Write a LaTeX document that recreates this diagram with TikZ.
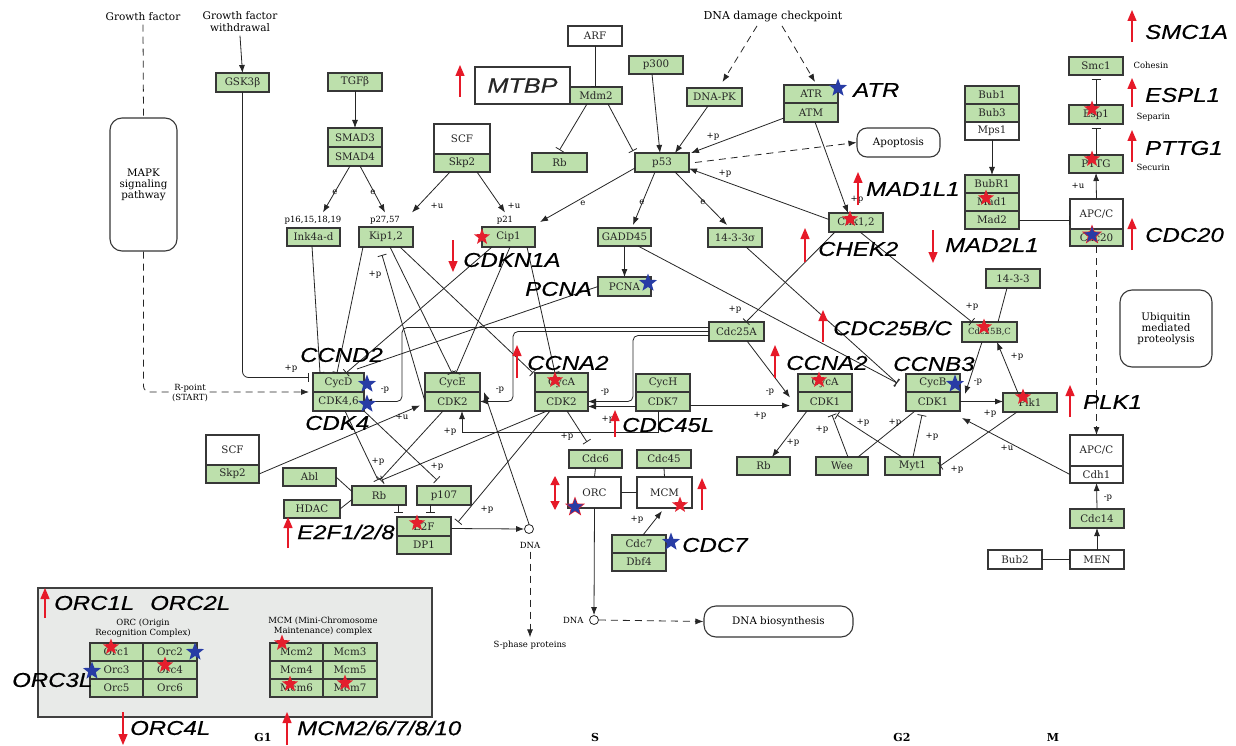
\documentclass[tikz,border=0pt]{standalone}
\usepackage{fontspec}
\setmainfont{DejaVu Serif}
\newfontfamily\gfont[FakeStretch=1.2,FakeBold=0.4]{Liberation Sans}
\usetikzlibrary{arrows.meta,shapes.geometric}
\definecolor{kg}{RGB}{189,224,172}
\definecolor{boxc}{RGB}{55,55,55}
\definecolor{pgrey}{RGB}{232,234,232}
\definecolor{sred}{RGB}{228,30,45}
\definecolor{sblue}{RGB}{40,60,165}
\definecolor{ared}{RGB}{230,25,40}
\newcommand\bxf{\fontsize{10.3}{11}\selectfont}
\newcommand\smf{\fontsize{8.5}{9.5}\selectfont}
\newcommand\KB[6][kg]{\node[bx,fill=#1,minimum width={#4pt-#2pt},minimum height={#5pt-#3pt}] (#6) at ({(#2+#4)/2},{(#3+#5)/2})}
\newcommand\LB[4]{\node[elab] (#1) at (#2,#3) {#4};}
\newcommand\GL[4]{\node[glab] (#1) at (#2,#3) {#4};}
\begin{document}
\begin{tikzpicture}[x=1pt,y=-1pt,
 bx/.style={draw=boxc,line width=1.2pt,inner sep=0pt,outer sep=0pt,font=\bxf,text=black!85},
 rbx/.style={draw=boxc,line width=1.1pt,rounded corners=12pt,align=center,font=\bxf,inner sep=0pt,fill=white},
 ln/.style={draw=black!85,line width=0.8pt},
 ar/.style={ln,-{Latex[length=8pt,width=6pt]}},
 inh/.style={ln,-{Bar[width=9pt]}},
 dsh/.style={ln,dash pattern=on 7pt off 5pt},
 elab/.style={font=\smf,inner sep=0pt},
 glab/.style={font=\gfont\itshape\fontsize{20}{21}\selectfont,anchor=west,inner sep=0pt,text=black},
 rst/.style={star,star points=5,star point ratio=2.4,fill=sred,inner sep=0pt,minimum size=17pt},
 bst/.style={star,star points=5,star point ratio=2.4,fill=sblue,inner sep=0pt,minimum size=19pt},
 rar/.style={draw=ared,line width=1.3pt,-{Triangle[width=9pt,length=11pt]}},
 ]
\useasboundingbox[fill=white] (0,0) rectangle (1236,746);

% ---- grey panel
\draw[fill=pgrey,draw=black!75,line width=1.5pt] (38,588) rectangle (432,717);

% ---- free texts
\node[font=\fontsize{10.5}{12}\selectfont] (gf) at (143,17) {Growth factor};
\node[font=\fontsize{10.5}{12}\selectfont,align=center] (gfw) at (240,22) {Growth factor\\withdrawal};
\node[font=\fontsize{11}{12}\selectfont] (ddc) at (773,17) {DNA damage checkpoint};
\node[font=\smf] (lab16) at (313,220) {p16,15,18,19};
\node[font=\smf] (lab27) at (385,220) {p27,57};
\node[font=\smf] (lab21) at (505,220) {p21};
\node[font=\smf,anchor=west] (coh) at (1130,65) {Cohesin};
\node[font=\smf,anchor=west] (sep) at (1133,117) {Separin};
\node[font=\smf,anchor=west] (sec) at (1133,167) {Securin};
\node[font=\smf,align=center] (orct) at (143,628) {ORC (Origin\\Recognition Complex)};
\node[font=\smf,align=center] (mcmt) at (323,626) {MCM (Mini-Chromosome\\Maintenance) complex};
\node[font=\bfseries\fontsize{11}{12}\selectfont] (ph1) at (263,737) {G1};
\node[font=\bfseries\fontsize{11}{12}\selectfont] (ph2) at (595,737) {S};
\node[font=\bfseries\fontsize{11}{12}\selectfont] (ph3) at (902,737) {G2};
\node[font=\bfseries\fontsize{11}{12}\selectfont] (ph4) at (1053,737) {M};

% ---- boxes
\KB{216}{73}{269}{92}{gsk} {GSK3β};
\node[rbx,minimum width=67pt,minimum height=133pt] (mapk) at (143.5,184.5) {MAPK\\signaling\\pathway};
\KB{328}{73}{382}{91}{tgf} {TGFβ};
\KB{328}{128}{382}{147}{smad3} {SMAD3};
\KB{328}{147}{382}{166}{smad4} {SMAD4};
\KB[white]{434}{124}{490}{154}{scfa} {SCF};
\KB{434}{154}{490}{172}{skp2a} {Skp2};
\KB[white]{475}{67}{570}{104}{mtbp} {\gfont\itshape\fontsize{21}{23}\selectfont MTBP};
\KB[white]{568}{26}{622}{46}{arf} {ARF};
\KB{570}{87}{622}{104}{mdm2} {Mdm2};
\KB{532}{153}{587}{172}{rbt} {Rb};
\KB{629}{56}{683}{74}{p300} {p300};
\KB{687}{88}{742}{106}{dnapk} {DNA-PK};
\KB{784}{85}{838}{103}{atr} {ATR};
\KB{784}{103}{838}{122}{atm} {ATM};
\KB{635}{153}{689}{172}{p53} {p53};
\node[rbx,minimum width=83pt,minimum height=29pt,rounded corners=10pt] (apop) at (898.5,142.5) {Apoptosis};
\KB{287}{228}{340}{246}{ink} {Ink4a-d};
\KB{359}{227}{413}{247}{kip} {Kip1,2};
\KB{482}{227}{535}{247}{cip} {Cip1};
\KB{598}{228}{651}{246}{gadd} {GADD45};
\KB{708}{228}{762}{247}{sig} {14-3-3σ};
\KB{829}{213}{883}{232}{chk} {Chk1,2};
\KB{965}{86}{1019}{104}{bub1} {Bub1};
\KB{965}{104}{1019}{122}{bub3} {Bub3};
\KB[white]{965}{122}{1019}{140}{mps1} {Mps1};
\KB{965}{175}{1019}{193}{bubr1} {BubR1};
\KB{965}{193}{1019}{211}{mad1} {Mad1};
\KB{965}{211}{1019}{229}{mad2} {Mad2};
\KB{1069}{57}{1123}{75}{smc1} {Smc1};
\KB{1069}{105}{1123}{124}{esp1} {Esp1};
\KB{1069}{155}{1123}{173}{pttg} {PTTG};
\KB[white]{1070}{199}{1123}{229}{apca} {APC/C};
\KB{1070}{229}{1123}{246}{cdc20} {Cdc20};
\KB{598}{277}{651}{296}{pcna} {PCNA};
\KB{709}{322}{764}{341}{cdc25a} {Cdc25A};
\KB{986}{269}{1040}{288}{s1433} {14-3-3};
\KB{962}{322}{1017}{342}{cdc25bc} {\fontsize{8.5}{9}\selectfont Cdc25B,C};
\node[rbx,minimum width=92pt,minimum height=77pt,rounded corners=12pt] (ubq) at (1166,328.5) {Ubiquitin\\mediated\\proteolysis};
\KB{313}{373}{364}{392}{cycd} {CycD};
\KB{313}{392}{364}{411}{cdk46} {CDK4,6};
\KB{425}{373}{480}{392}{cyce} {CycE};
\KB{425}{392}{480}{411}{cdk2e} {CDK2};
\KB{535}{373}{588}{392}{cyca} {CycA};
\KB{535}{392}{588}{411}{cdk2a} {CDK2};
\KB{636}{374}{690}{392}{cych} {CycH};
\KB{636}{392}{690}{411}{cdk7} {CDK7};
\KB{798}{374}{852}{392}{cycab} {CycA};
\KB{798}{392}{852}{411}{cdk1a} {CDK1};
\KB{906}{374}{960}{392}{cycb} {CycB};
\KB{906}{392}{960}{411}{cdk1b} {CDK1};
\KB{1003}{393}{1057}{412}{plk1} {Plk1};
\KB[white]{1070}{435}{1123}{466}{apcb} {APC/C};
\KB[white]{1070}{466}{1123}{483}{cdh1} {Cdh1};
\KB[white]{206}{435}{259}{465}{scfb} {SCF};
\KB{206}{465}{259}{483}{skp2b} {Skp2};
\KB{283}{468}{336}{486}{abl} {Abl};
\KB{284}{500}{340}{518}{hdac} {HDAC};
\KB{352}{486}{406}{505}{rb} {Rb};
\KB{417}{486}{471}{505}{p107} {p107};
\KB{397}{517}{451}{536}{e2f} {E2F};
\KB{397}{536}{451}{554}{dp1} {DP1};
\KB{569}{450}{622}{468}{cdc6} {Cdc6};
\KB{637}{450}{691}{468}{cdc45} {Cdc45};
\KB[white]{568}{477}{621}{508}{orc} {ORC};
\KB[white]{637}{477}{692}{508}{mcm} {MCM};
\KB{612}{535}{666}{553}{cdc7} {Cdc7};
\KB{612}{553}{666}{571}{dbf4} {Dbf4};
\KB{737}{457}{790}{475}{rbb} {Rb};
\KB{816}{457}{868}{475}{wee} {Wee};
\KB{885}{457}{940}{475}{myt1} {Myt1};
\KB{1070}{509}{1124}{528}{cdc14} {Cdc14};
\KB[white]{1070}{550}{1124}{569}{men} {MEN};
\KB[white]{988}{550}{1042}{569}{bub2} {Bub2};
\node[rbx,minimum width=149pt,minimum height=31pt,rounded corners=12pt] (dnab) at (778.5,621.5) {DNA biosynthesis};
% ORC / MCM grids
\KB{90}{643}{143}{661}{o1} {Orc1};
\KB{143}{643}{197}{661}{o2} {Orc2};
\KB{90}{661}{143}{679}{o3} {Orc3};
\KB{143}{661}{197}{679}{o4} {Orc4};
\KB{90}{679}{143}{697}{o5} {Orc5};
\KB{143}{679}{197}{697}{o6} {Orc6};
\KB{270}{643}{323}{661}{m2} {Mcm2};
\KB{323}{643}{377}{661}{m3} {Mcm3};
\KB{270}{661}{323}{679}{m4} {Mcm4};
\KB{323}{661}{377}{679}{m5} {Mcm5};
\KB{270}{679}{323}{697}{m6} {Mcm6};
\KB{323}{679}{377}{697}{m7} {Mcm7};
% DNA circles
\node[circle,draw=black!85,line width=0.8pt,minimum size=9pt,inner sep=0pt,fill=white] (dna1) at (529,529) {};
\node[font=\smf] (dna1l) at (530,545) {DNA};
\node[circle,draw=black!85,line width=0.8pt,minimum size=9pt,inner sep=0pt,fill=white] (dna2) at (594,620) {};
\node[font=\smf,anchor=east] (dna2l) at (587,620) {DNA};
\node[font=\smf] (sph) at (530,645) {S-phase proteins};

% ---- connectors
\draw[dsh] (gf.south) -- (mapk.north);
\draw[ar] (gfw.south) -- (gsk.north);
\draw[dsh,-{Latex[length=8pt,width=6pt]},rounded corners=6pt] (mapk.south) |- ([xshift=-4pt]cdk46.north west);
\node[fill=white,align=center,font=\smf,inner sep=1pt] (rp) at (190,393) {R-point\\(START)};
\draw[inh,rounded corners=6pt] (gsk.south) |- ([xshift=-4pt,yshift=5pt]cycd.west);
\draw[ar] (tgf.south) -- (smad3.north);
\draw[ar] ([xshift=22pt]smad4.south west) -- ([xshift=10pt]lab16.north);
\draw[ar] ([xshift=32pt]smad4.south west) -- (lab27.north);
\draw[ar] ([xshift=16pt]skp2a.south west) -- ([xshift=27pt]lab27.north);
\draw[ar] ([xshift=43pt]skp2a.south west) -- (lab21.north);
\draw[inh] (arf.south) -- ([xshift=-1pt]mdm2.north);
\draw[inh] ([xshift=17pt]mdm2.south west) -- ([yshift=3pt]rbt.north);
\draw[inh] ([xshift=38pt]mdm2.south west) -- ([xshift=-2pt,yshift=2pt]p53.north west);
\draw[ar] ([xshift=23pt]p300.south west) -- ([xshift=25pt]p53.north west);
\draw[ar] ([xshift=21pt]dnapk.south west) -- ([xshift=40pt]p53.north west);
\draw[ar] ([yshift=4pt]atm.south west) -- ([xshift=2pt]p53.north east);
\draw[ar] ([yshift=3pt]chk.west) -- ([yshift=-6pt]p53.east);
\draw[dsh,-{Latex[length=8pt,width=6pt]}] ([xshift=-16pt]ddc.south) -- ([xshift=8pt,yshift=6pt]dnapk.north);
\draw[dsh,-{Latex[length=8pt,width=6pt]}] ([xshift=9pt]ddc.south) -- ([xshift=4pt,yshift=3pt]atr.north);
\draw[dsh,-{Latex[length=8pt,width=6pt]}] ([xshift=6pt]p53.east) -- (apop.west);
\draw[ar] ([xshift=31pt]atm.south west) -- ([xshift=19pt]chk.north west);
\draw[ar] ([yshift=4pt]p53.south west) -- ([xshift=5pt,yshift=5pt]cip.north east);
\draw[ar] ([xshift=20pt]p53.south west) -- ([xshift=35pt,yshift=3pt]gadd.north west);
\draw[ar] ([xshift=40pt]p53.south west) -- ([xshift=19pt,yshift=3pt]sig.north west);
\draw[ar] (gadd.south) -- (pcna.north);
\draw[ar] (mps1.south) -- (bubr1.north);
\draw[inh] (mad2.east) -- (mad2.east -| apca.west);
\draw[ar] (apca.north) -- (pttg.south);
\draw[inh] (pttg.north) -- ([yshift=-4pt]esp1.south);
\draw[inh] (esp1.north) -- ([yshift=-4pt]smc1.south);
\draw[dsh,-{Latex[length=8pt,width=6pt]}] (cdc20.south) -- (apcb.north);
\draw[ar] (men.north) -- (cdc14.south);
\draw[ar] (cdc14.north) -- (cdh1.south);
\draw[inh] (bub2.east) -- (men.west);
\draw[ar] (cdh1.west) -- ([xshift=2pt,yshift=-7pt]cdk1b.south east);
\draw[ar] ([xshift=20pt]cdc25bc.south west) -- ([xshift=5pt,yshift=-2pt]cycb.south east);
\draw[ar] (cdk1b.east) -- (cdk1b.east -| plk1.west);
\draw[ar] ([xshift=15pt]plk1.north west) -- ([xshift=35pt]cdc25bc.south west);
\draw[ln] ([xshift=21pt]s1433.south west) -- ([xshift=36pt]cdc25bc.north west);
\draw[inh] ([xshift=31pt]chk.south west) -- ([xshift=10pt]cdc25bc.north west);
\draw[inh] ([xshift=6pt]chk.south west) -- ([xshift=37pt]cdc25a.north west);
\draw[ar] ([xshift=38pt]cdc25a.south west) -- ([xshift=-8pt,yshift=4pt]cdk1a.west);
\draw[ar] ([yshift=-4pt]cdk7.east) -- ([xshift=-8pt,yshift=-4pt]cdk1a.west);
\draw[ar,rounded corners=5pt] ([yshift=4pt]cdc25a.west) -| ([xshift=38pt]cdk46.east) -- (cdk46.east);
\draw[ar,rounded corners=5pt] (cdc25a.west) -| ([xshift=33pt]cdk2e.east) -- (cdk2e.east);
\draw[ar,rounded corners=5pt] ([yshift=-4pt]cdc25a.west) -| ([xshift=45pt]cdk2a.east) -- (cdk2a.east);
\draw[ar] ([yshift=-5pt]cdk7.west) -- ([yshift=-5pt]cdk2a.east);
\draw[ar] ([xshift=22pt]cdk7.south west) -- ++(0,21) -| ([xshift=37pt]cdk2e.south west);
\draw[inh] ([xshift=32pt]cdk46.south west) -- ([xshift=26pt,yshift=6pt]rb.north west);
\draw[inh] (cdk46.south east) -- ([xshift=20pt,yshift=6pt]p107.north west);
\draw[inh] ([xshift=18pt]cdk2e.south west) -- ([xshift=28pt,yshift=6pt]rb.north west);
\draw[inh] ([xshift=12pt]cdk2a.south west) -- ([xshift=30pt,yshift=6pt]rb.north west);
\draw[ar] (skp2b.east) -- ([xshift=-5pt,yshift=-4pt]cdk2e.west);
\draw[inh] ([xshift=32pt]cdk2a.south west) -- ([xshift=18pt,yshift=8pt]cdc6.north west);
\draw[ln] (abl.east) -- ([yshift=4pt]rb.west);
\draw[ln] (hdac.east) -- ([yshift=-4pt]rb.west);
\draw[inh] ([xshift=46pt]rb.south west) -- ++(0,8);
\draw[inh] ([xshift=13pt]p107.south west) -- ++(0,8);
\draw[ar] ([yshift=-2pt]e2f.east) -- (dna1.west);
\draw[inh] ([xshift=15pt]cdk2a.south west) -- ([xshift=61pt,yshift=-5pt]e2f.north west);
\draw[ar] (dna1.north) -- ([xshift=4pt]cdk2e.north east);
\draw[dsh,-{Latex[length=8pt,width=6pt]}] (dna1l.south) -- (sph.north);
\draw[ln] (cdc6.south) -- (orc.north);
\draw[ln] (cdc45.south) -- (mcm.north);
\draw[ln] (orc.east) -- (mcm.west);
\draw[ar] ([xshift=31pt]cdc7.north west) -- ([xshift=25pt,yshift=-3pt]mcm.south west);
\draw[ar] (orc.south) -- (dna2.north);
\draw[dsh,-{Latex[length=8pt,width=6pt]}] (dna2.east) -- (dnab.west);
\draw[ar] ([xshift=9pt]cdk1a.south west) -- ([xshift=35pt]rbb.north west);
\draw[inh] ([xshift=32pt]wee.north west) -- ([xshift=34pt,yshift=-4pt]cdk1a.south west);
\draw[inh] ([xshift=17pt]myt1.north west) -- ([xshift=39pt,yshift=-4pt]cdk1a.south west);
\draw[ln] ([xshift=42pt]wee.north west) -- ([xshift=9pt]cdk1b.south west);
\draw[inh] ([xshift=28pt]myt1.north west) -- ([xshift=16pt,yshift=-4pt]cdk1b.south west);
\draw[inh] ([xshift=14pt]plk1.south west) -- (myt1.east);
\draw[inh] ([xshift=40pt]gadd.south west) -- ([xshift=-9pt]cycb.west);
\draw[inh] ([xshift=38pt]sig.south west) -- ([xshift=-9pt]cycb.west);
\draw[ln] (pcna.west) -- ([xshift=44pt,yshift=4pt]cycd.north west);
\draw[inh] ([xshift=25pt]ink.south west) -- ([xshift=7pt]cycd.north west);
\draw[inh] ([xshift=4pt]kip.south west) -- ([xshift=24pt]cycd.north west);
\draw[inh] ([xshift=31pt]kip.south west) -- ([xshift=27pt]cyce.north west);
\draw[inh] ([xshift=41pt]kip.south west) -- ([xshift=-2pt]cyca.north west);
\draw[inh] ([xshift=10pt]cip.south west) -- ([xshift=33pt]cycd.north west);
\draw[inh] ([xshift=28pt]cip.south west) -- ([xshift=31pt]cyce.north west);
\draw[inh] ([xshift=45pt]cip.south west) -- ([xshift=20pt]cyca.north west);
\draw[inh] (cdk2e.west) -- ([xshift=23pt,yshift=-8pt]kip.south west);

% ---- edge labels
\LB{l1}{291}{369}{+p}
\LB{l2}{335}{192}{e}
\LB{l3}{373}{192}{e}
\LB{l4}{437}{206}{+u}
\LB{l5}{514}{206}{+u}
\LB{l6}{713}{137}{+p}
\LB{l7}{725}{174}{+p}
\LB{l8}{857}{200}{+p}
\LB{l9}{583}{203}{e}
\LB{l10}{642}{202}{e}
\LB{l11}{703}{202}{e}
\LB{l12}{1078}{186}{+u}
\LB{l13}{1108}{498}{-p}
\LB{l14}{1007}{448}{+u}
\LB{l15}{978}{382}{-p}
\LB{l16}{990}{414}{+p}
\LB{l17}{1017}{357}{+p}
\LB{l18}{972}{307}{+p}
\LB{l19}{735}{310}{+p}
\LB{l20}{770}{392}{-p}
\LB{l21}{760}{416}{+p}
\LB{l22}{385}{390}{-p}
\LB{l23}{500}{390}{-p}
\LB{l24}{605}{392}{-p}
\LB{l25}{450}{432}{+p}
\LB{l26}{378}{462}{+p}
\LB{l27}{437}{467}{+p}
\LB{l28}{402}{417}{+u}
\LB{l29}{567}{437}{+p}
\LB{l30}{487}{510}{+p}
\LB{l31}{637}{520}{+p}
\LB{l32}{793}{443}{+p}
\LB{l33}{822}{430}{+p}
\LB{l34}{863}{423}{+p}
\LB{l35}{895}{423}{+p}
\LB{l36}{932}{437}{+p}
\LB{l37}{957}{470}{+p}
\LB{l38}{375}{275}{+p}
\LB{l39}{608}{420}{+p}

% ---- stars
\node[rst] (s1) at (482,237) {};
\node[rst] (s2) at (850,219) {};
\node[rst] (s3) at (986,198) {};
\node[rst] (s4) at (1092,109) {};
\node[rst] (s5) at (1092,159) {};
\node[rst] (s6) at (555,380) {};
\node[rst] (s7) at (819,380) {};
\node[rst] (s8) at (984,327) {};
\node[rst] (s9) at (1023,397) {};
\node[rst] (s10) at (417,523) {};
\node[rst] (s11) at (680,505) {};
\node[rst] (s12) at (111,647) {};
\node[rst] (s13) at (165,665) {};
\node[rst] (s14) at (282,643) {};
\node[rst] (s15) at (290,684) {};
\node[rst] (s16) at (345,683) {};
\node[rst,minimum size=21pt] (s17) at (575,507) {};
\node[rst,minimum size=21pt] (s18) at (1092,235) {};
\node[bst] (b1) at (838,88) {};
\node[bst] (b2) at (648,283) {};
\node[bst] (b3) at (367,384) {};
\node[bst] (b4) at (367,404) {};
\node[bst] (b5) at (955,384) {};
\node[bst] (b6) at (671,542) {};
\node[bst] (b7) at (195,652) {};
\node[bst] (b8) at (92,671) {};
\node[bst,minimum size=17pt] (b9) at (575,507) {};
\node[bst,minimum size=17pt] (b10) at (1092,235) {};

% ---- red arrows
\draw[rar] (460,97) -- (460,65);
\draw[rar] (858,205) -- (858,172);
\draw[rar] (805,262) -- (805,228);
\draw[rar] (933,230) -- (933,263);
\draw[rar] (1132,250) -- (1132,218);
\draw[rar] (1132,42) -- (1132,10);
\draw[rar] (1132,107) -- (1132,78);
\draw[rar] (1132,162) -- (1132,130);
\draw[rar] (453,240) -- (453,272);
\draw[rar] (517,378) -- (517,345);
\draw[rar] (775,378) -- (775,345);
\draw[rar] (823,342) -- (823,310);
\draw[rar] (1070,417) -- (1070,385);
\draw[rar] (615,437) -- (615,410);
\draw[rar] (288,548) -- (288,517);
\draw[rar] (45,618) -- (45,588);
\draw[rar] (123,712) -- (123,745);
\draw[rar] (287,745) -- (287,712);
\draw[rar] (702,510) -- (702,478);
\draw[draw=ared,line width=1.3pt,{Triangle[width=9pt,length=9pt]}-{Triangle[width=9pt,length=9pt]}] (555,476) -- (555,510);

% ---- gene labels
\GL{gATR}{853}{90}{ATR}
\GL{gMAD1}{866}{189}{MAD1L1}
\GL{gCHEK}{818}{249}{CHEK2}
\GL{gMAD2}{945}{245}{MAD2L1}
\GL{gCDC20}{1145}{235}{CDC20}
\GL{gSMC}{1145}{32}{SMC1A}
\GL{gESP}{1145}{95}{ESPL1}
\GL{gPTTG}{1145}{148}{PTTG1}
\GL{gCDKN}{463}{260}{CDKN1A}
\GL{gPCNA}{525}{289}{PCNA}
\GL{gCCND}{300}{355}{CCND2}
\GL{gCCNA}{527}{363}{CCNA2}
\GL{gCCNAb}{786}{363}{CCNA2}
\GL{gCDC25}{833}{328}{CDC25B/C}
\GL{gCCNB}{893}{364}{CCNB3}
\GL{gPLK}{1083}{402}{PLK1}
\GL{gCDK4}{305}{423}{CDK4}
\GL{gCDC45}{622}{425}{CDC45L}
\GL{gE2F}{297}{532}{E2F1/2/8}
\GL{gCDC7}{682}{545}{CDC7}
\GL{gORC1}{54}{603}{ORC1L}
\GL{gORC2}{150}{603}{ORC2L}
\GL{gORC3}{12}{680}{ORC3L}
\GL{gORC4}{130}{728}{ORC4L}
\GL{gMCM}{297}{728}{MCM2/6/7/8/10}
\end{tikzpicture}
\end{document}
